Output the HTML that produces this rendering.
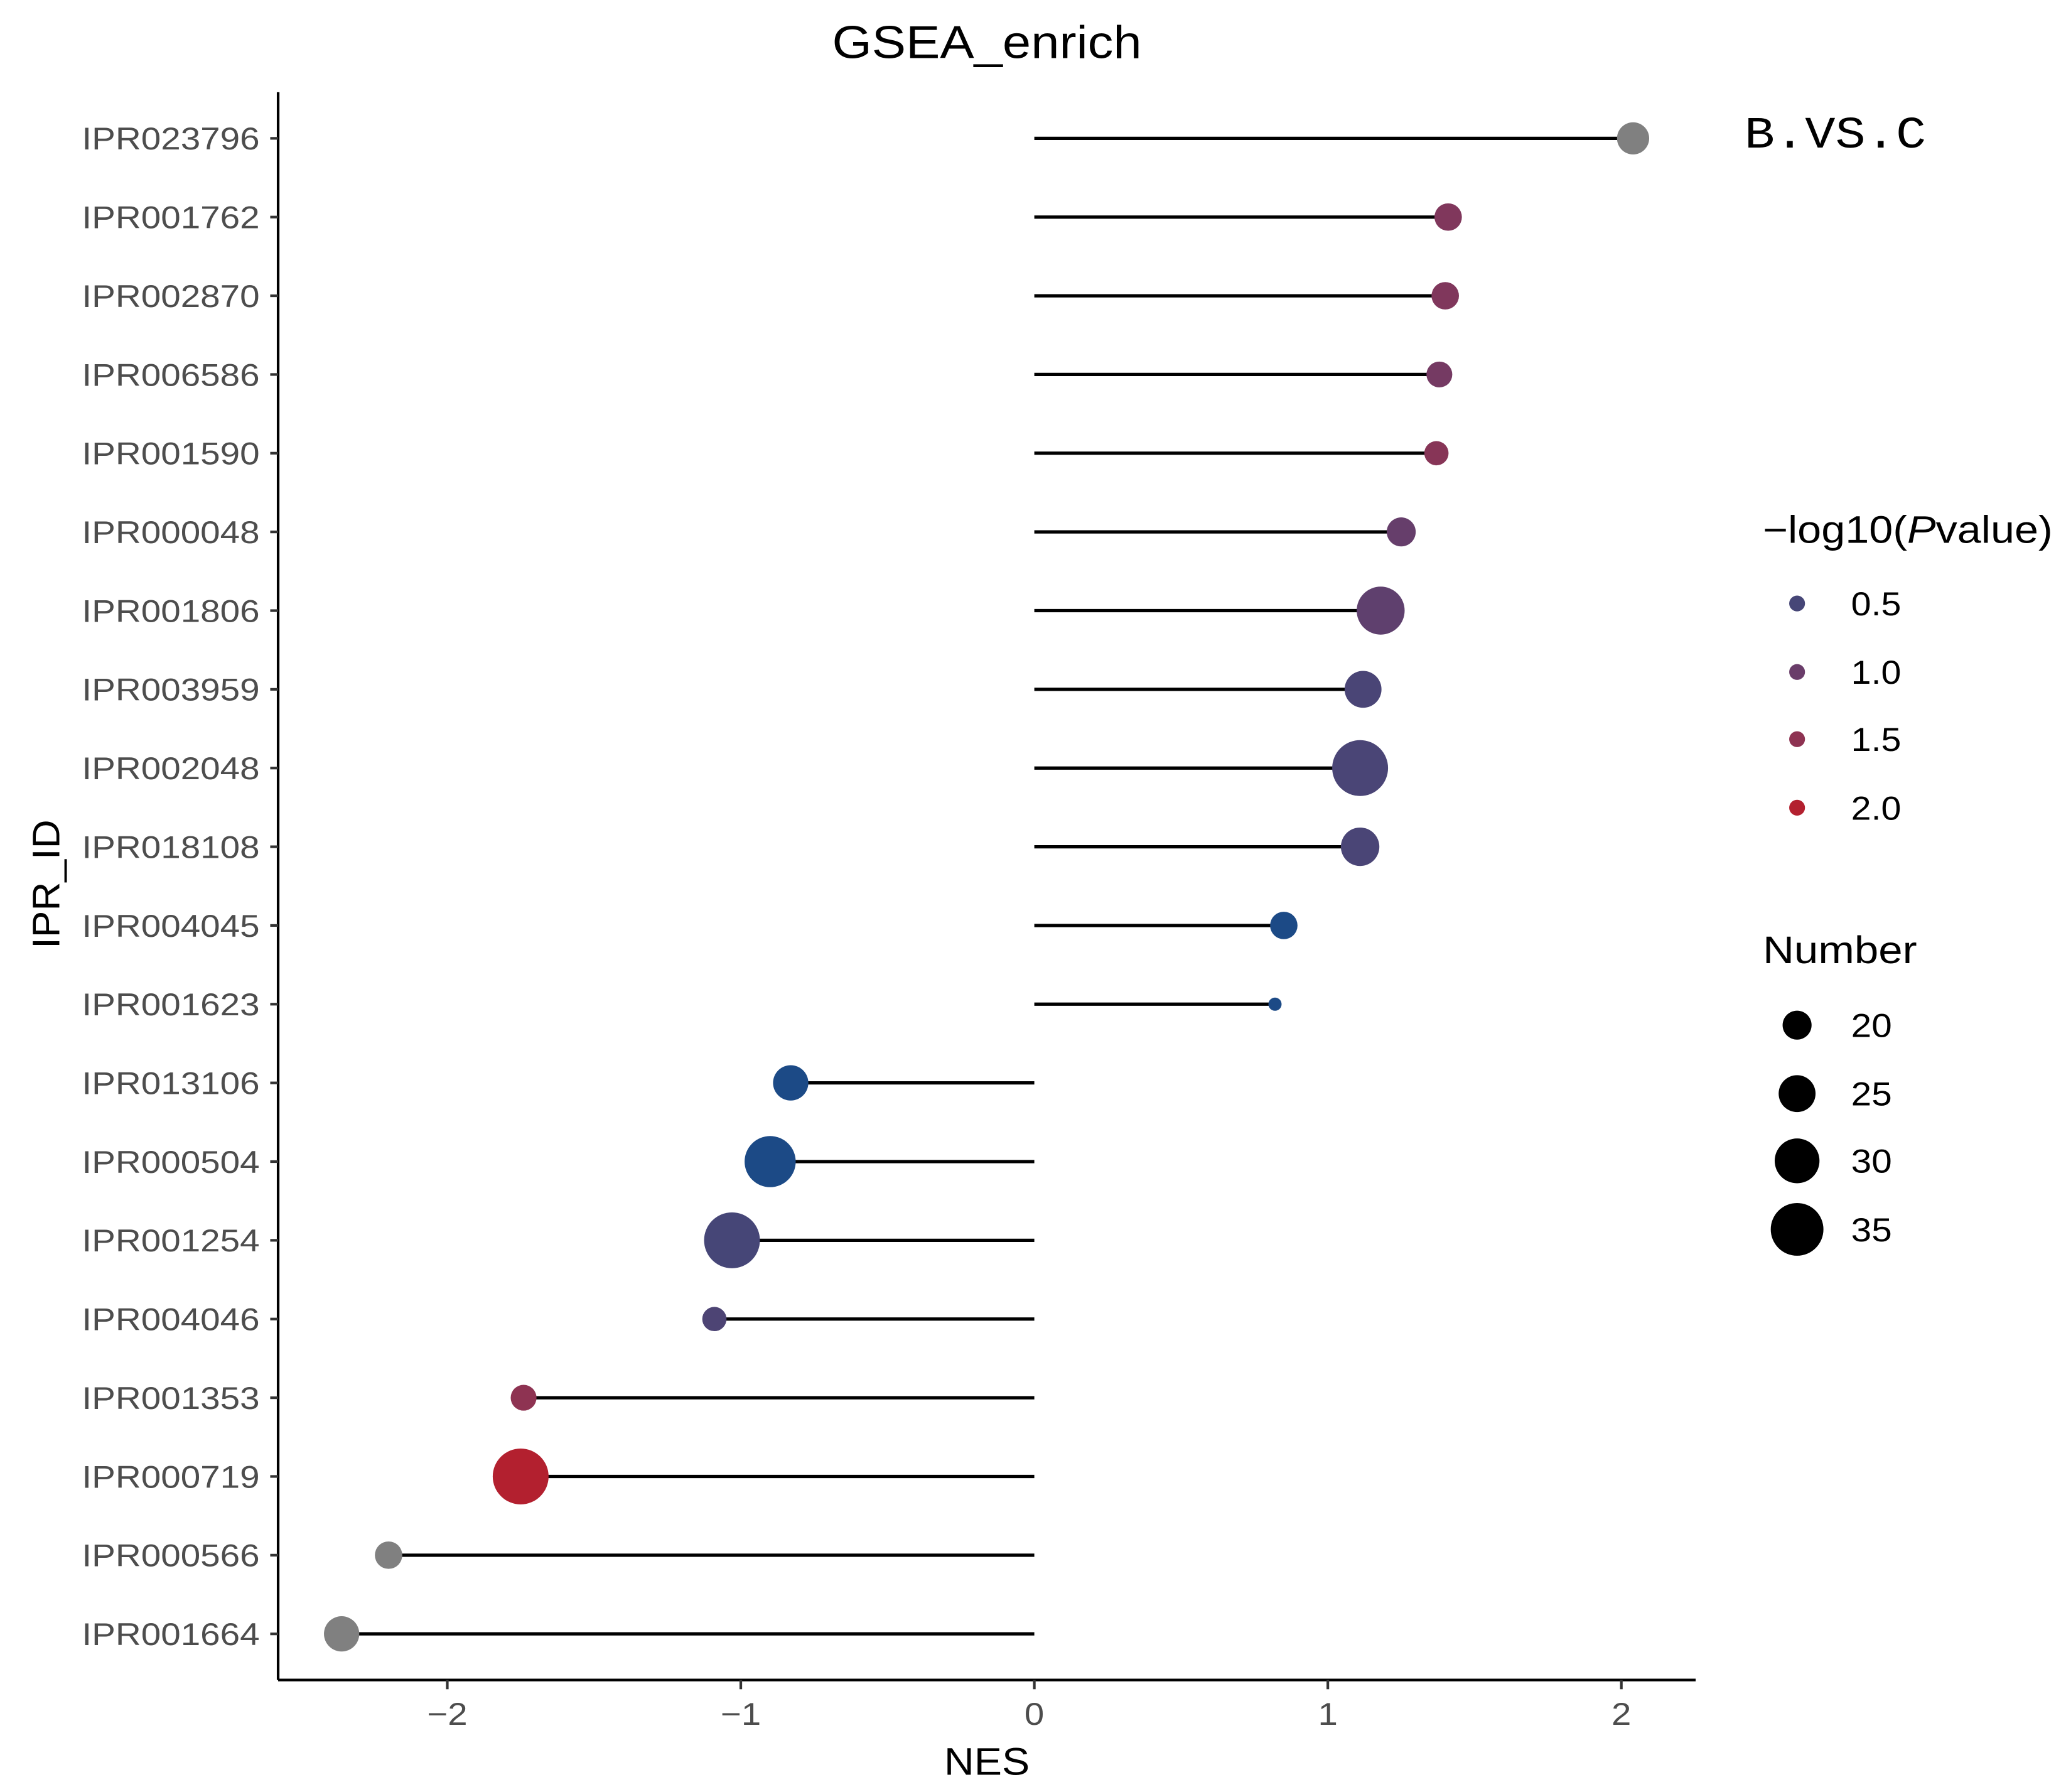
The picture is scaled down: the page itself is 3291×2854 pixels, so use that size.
<!DOCTYPE html>
<html><head><meta charset="utf-8"><style>html,body{margin:0;padding:0;background:#fff}svg{display:block}</style></head>
<body>
<svg id="chart" width="3291" height="2854" viewBox="0 0 1568 1360" xmlns="http://www.w3.org/2000/svg" font-family="Liberation Sans, sans-serif">
<text x="749" y="44" font-size="35" text-anchor="middle" fill="#000" textLength="235" lengthAdjust="spacingAndGlyphs">GSEA_enrich</text>
<text x="1393" y="112" font-size="34" text-anchor="middle" font-family="Liberation Mono, monospace" fill="#000" textLength="138" lengthAdjust="spacingAndGlyphs">B.VS.C</text>
<g id="plot"></g>
<line x1="211" y1="70" x2="211" y2="1275" stroke="#000" stroke-width="2"/>
<line x1="211" y1="1275" x2="1287" y2="1275" stroke="#000" stroke-width="2"/>
<text x="749" y="1347" font-size="29" text-anchor="middle" textLength="65" lengthAdjust="spacingAndGlyphs">NES</text>
<text transform="translate(45,671) rotate(-90)" font-size="29" text-anchor="middle" textLength="98" lengthAdjust="spacingAndGlyphs">IPR_ID</text>
<g>
<text x="1338" y="412" font-size="29" textLength="220" lengthAdjust="spacingAndGlyphs">−log10(<tspan font-style="italic">P</tspan>value)</text>
<circle cx="1364" cy="458" r="6" fill="#464677"/><text x="1405" y="467" font-size="25" fill="#000" textLength="38" lengthAdjust="spacingAndGlyphs">0.5</text>
<circle cx="1364" cy="510" r="6" fill="#6a3d6a"/><text x="1405" y="519" font-size="25" fill="#000" textLength="38" lengthAdjust="spacingAndGlyphs">1.0</text>
<circle cx="1364" cy="561" r="6" fill="#8e3352"/><text x="1405" y="570" font-size="25" fill="#000" textLength="38" lengthAdjust="spacingAndGlyphs">1.5</text>
<circle cx="1364" cy="613" r="6" fill="#b3202f"/><text x="1405" y="622" font-size="25" fill="#000" textLength="38" lengthAdjust="spacingAndGlyphs">2.0</text>
</g>
<g>
<text x="1338" y="731" font-size="29" textLength="117" lengthAdjust="spacingAndGlyphs">Number</text>
<circle cx="1364" cy="778" r="11" fill="#000"/><text x="1405" y="787" font-size="25" textLength="31" lengthAdjust="spacingAndGlyphs">20</text>
<circle cx="1364" cy="830" r="14" fill="#000"/><text x="1405" y="839" font-size="25" textLength="31" lengthAdjust="spacingAndGlyphs">25</text>
<circle cx="1364" cy="881" r="17" fill="#000"/><text x="1405" y="890" font-size="25" textLength="31" lengthAdjust="spacingAndGlyphs">30</text>
<circle cx="1364" cy="933" r="20" fill="#000"/><text x="1405" y="942" font-size="25" textLength="31" lengthAdjust="spacingAndGlyphs">35</text>
</g>
</svg>
<script>
const categories=["IPR023796","IPR001762","IPR002870","IPR006586","IPR001590","IPR000048","IPR001806","IPR003959","IPR002048","IPR018108","IPR004045","IPR001623","IPR013106","IPR000504","IPR001254","IPR004046","IPR001353","IPR000719","IPR000566","IPR001664"];
const nesValues=[2.04,1.41,1.40,1.38,1.37,1.25,1.18,1.12,1.11,1.11,0.85,0.82,-0.83,-0.90,-1.03,-1.09,-1.74,-1.75,-2.20,-2.36];
const logPValues=[null,1.3,1.3,1.15,1.4,0.95,0.85,0.55,0.55,0.55,0.2,0.2,0.2,0.2,0.5,0.6,1.5,2.0,null,null];
const counts=[22,19,19,18,17,20,32,25,37,26,19,10,24,34,37,17,18,37,19,24];
const xTicks=[-2,-1,0,1,2];
const xTickLabels=["−2","−1","0","1","2"];
const NS="http://www.w3.org/2000/svg";
const plot=document.getElementById('plot');
const svg=document.getElementById('chart');
function xScale(v){return 785+v*222.8;}
function yScale(i){return 105+i*(1240-105)/19;}
function rScale(n){return 11+(n-20)*0.6;}
const stops=[[0.2,[28,74,134]],[0.5,[70,70,119]],[1.0,[106,61,106]],[1.5,[142,51,82]],[2.0,[179,32,47]]];
function colorScale(v){
  if(v===null)return '#808080';
  if(v<=stops[0][0])return 'rgb('+stops[0][1].join(',')+')';
  for(let k=1;k<stops.length;k++){if(v<=stops[k][0]){const a=stops[k-1],b=stops[k];const t=(v-a[0])/(b[0]-a[0]);return 'rgb('+a[1].map((c,j)=>Math.round(c+(b[1][j]-c)*t)).join(',')+')';}}
  return 'rgb('+stops[4][1].join(',')+')';
}
function mk(tag,attrs,parent){const e=document.createElementNS(NS,tag);for(const k in attrs)e.setAttribute(k,attrs[k]);(parent||plot).appendChild(e);return e;}
categories.forEach((c,i)=>{
  const y=yScale(i);
  const t=mk('text',{x:197,y:y+8.5,'font-size':24,'text-anchor':'end',fill:'#4d4d4d',textLength:135,lengthAdjust:'spacingAndGlyphs'},svg);
  t.textContent=c;
  
  
  const tk=mk('line',{x1:205,x2:211,y1:y,y2:y,stroke:'#333','stroke-width':2},svg);
  
  
  const ln=mk('line',{x1:xScale(0),x2:xScale(nesValues[i]),y1:y,y2:y,stroke:'#000','stroke-width':2.5});
  
  
  const pt=mk('circle',{cx:xScale(nesValues[i]),cy:y,r:rScale(counts[i]),fill:colorScale(logPValues[i])});
  
  
});
xTicks.forEach((v,i)=>{
  const x=xScale(v);
  const tk=mk('line',{x1:x,x2:x,y1:1275,y2:1282,stroke:'#333','stroke-width':2},svg);
  
  
  const t=mk('text',{x:x,y:1309,'font-size':24,'text-anchor':'middle',fill:'#4d4d4d',transform:'translate('+x+',0) scale(1.12,1) translate('+(-x)+',0)'},svg);
  t.textContent=xTickLabels[i];
  
  
});
</script>
</body></html>
